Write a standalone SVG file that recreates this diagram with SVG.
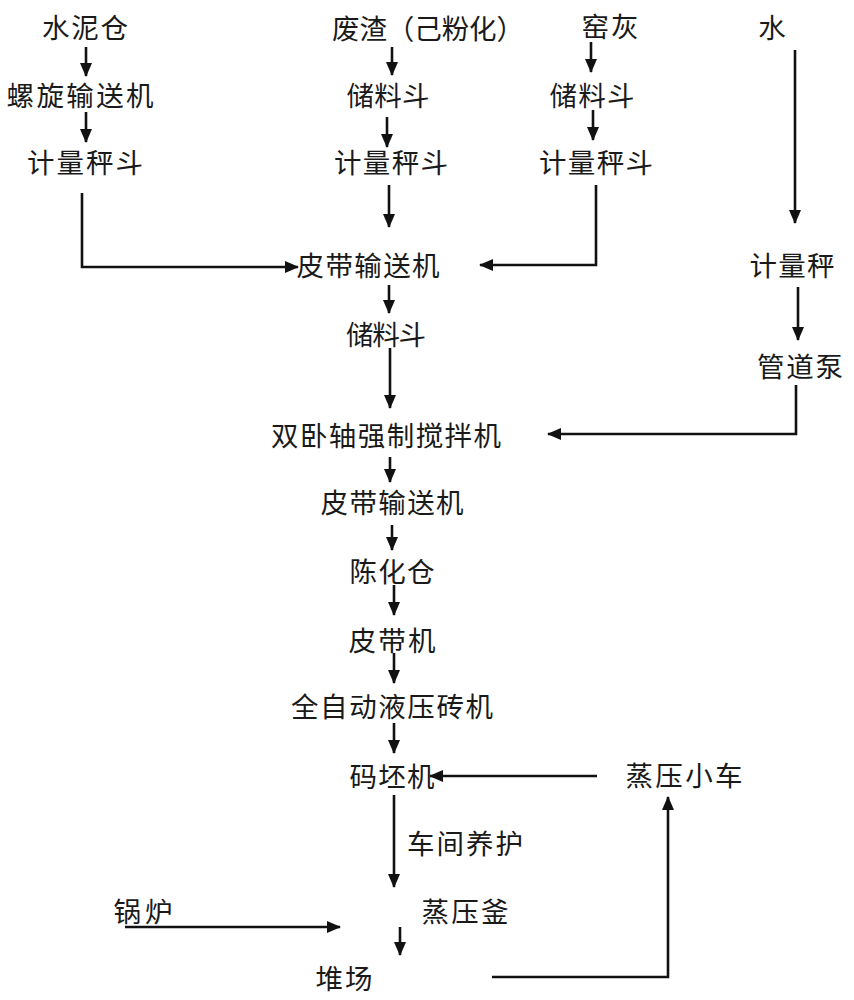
<svg xmlns="http://www.w3.org/2000/svg" width="854" height="1000" viewBox="0 0 854 1000">
<style>
text{font-family:"Noto Sans CJK SC","Noto Sans CJK TC",sans-serif;font-size:27.5px;fill:#1a1a1a;text-anchor:middle}
.c{fill:none;stroke:#111;stroke-width:2.6;marker-end:url(#ah)}
</style>
<defs>
<marker id="ah" viewBox="0 0 14 12" refX="13" refY="6" markerWidth="14" markerHeight="12" markerUnits="userSpaceOnUse" orient="auto">
<path d="M0,0 L14,6 L0,12 z" fill="#111"/>
</marker>
</defs>
<rect width="854" height="1000" fill="#fff"/>
<g id="connectors">
<path class="c" d="M86,47 V76"/>
<path class="c" d="M86,112 V142"/>
<path class="c" d="M82,193 V267 H298"/>
<path class="c" d="M392,47 V75"/>
<path class="c" d="M387,117 V147"/>
<path class="c" d="M389,185 V227"/>
<path class="c" d="M591,42 V72"/>
<path class="c" d="M593,110 V140"/>
<path class="c" d="M596,185 V265 H480"/>
<path class="c" d="M795,50 V223"/>
<path class="c" d="M389,285 V313"/>
<path class="c" d="M798,287 V340"/>
<path class="c" d="M390,348 V408"/>
<path class="c" d="M796,385 V434 H548"/>
<path class="c" d="M390,457 V482"/>
<path class="c" d="M392,525 V550"/>
<path class="c" d="M394,585 V615"/>
<path class="c" d="M394,653 V683"/>
<path class="c" d="M394,723 V753"/>
<path class="c" d="M597,776 H430"/>
<path class="c" d="M394,795 V887"/>
<path class="c" d="M125,927 H340"/>
<path class="c" d="M400,927 V955"/>
<path class="c" d="M492,977 H668 V797"/>
</g>
<g id="n-cement"><text x="85" y="38" textLength="86">水泥仓</text></g>
<g id="n-screw"><text x="80" y="106" textLength="147">螺旋输送机</text></g>
<g id="n-weigh1"><text x="85" y="173" textLength="116">计量秤斗</text></g>
<g id="n-slag"><text x="428" y="39" textLength="192">废渣（己粉化）</text></g>
<g id="n-hopper1"><text x="388" y="106" textLength="83">储料斗</text></g>
<g id="n-weigh2"><text x="391" y="173" textLength="114">计量秤斗</text></g>
<g id="n-kiln"><text x="610" y="37" textLength="57">窑灰</text></g>
<g id="n-hopper2"><text x="592" y="106" textLength="85">储料斗</text></g>
<g id="n-weigh3"><text x="596" y="173" textLength="114">计量秤斗</text></g>
<g id="n-water"><text x="772" y="38">水</text></g>
<g id="n-belt1"><text x="368" y="276" textLength="143">皮带输送机</text></g>
<g id="n-scale"><text x="792" y="276" textLength="85">计量秤</text></g>
<g id="n-hopper3"><text x="386" y="345" textLength="80">储料斗</text></g>
<g id="n-pump"><text x="800" y="377" textLength="86">管道泵</text></g>
<g id="n-mixer"><text x="386" y="446" textLength="230">双卧轴强制搅拌机</text></g>
<g id="n-belt2"><text x="392" y="513" textLength="143">皮带输送机</text></g>
<g id="n-aging"><text x="392" y="582" textLength="85">陈化仓</text></g>
<g id="n-belt3"><text x="392" y="651" textLength="87">皮带机</text></g>
<g id="n-press"><text x="392" y="717" textLength="202">全自动液压砖机</text></g>
<g id="n-stacker"><text x="392" y="787" textLength="85">码坯机</text></g>
<g id="n-cart"><text x="684" y="786" textLength="117">蒸压小车</text></g>
<g id="n-curing"><text x="465" y="854" textLength="116">车间养护</text></g>
<g id="n-boiler"><text x="143" y="922" textLength="59">锅炉</text></g>
<g id="n-autoclave"><text x="465" y="922" textLength="87">蒸压釜</text></g>
<g id="n-yard"><text x="344" y="989" textLength="57">堆场</text></g>
</svg>
